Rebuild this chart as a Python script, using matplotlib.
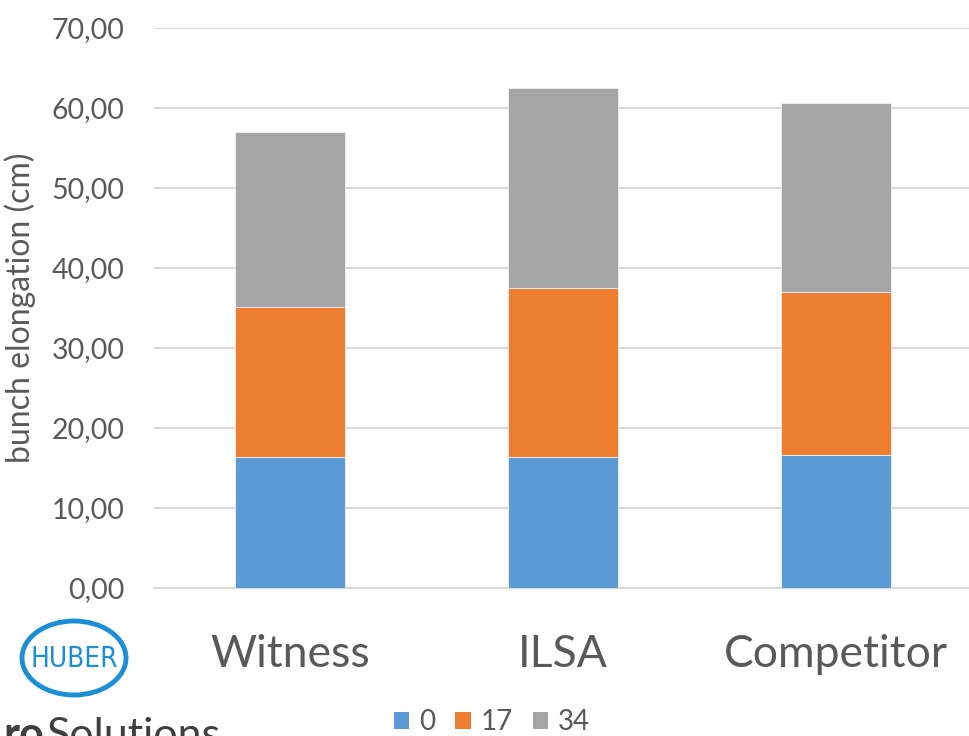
import matplotlib
matplotlib.use("Agg")
import matplotlib.pyplot as plt
from matplotlib.patches import Ellipse, Patch
import numpy as np

plt.rcParams['font.family'] = ['Lato', 'DejaVu Sans']

# bunch elongation per treatment, split by day
categories = ["Witness", "ILSA", "Competitor"]
series_names = ["0", "17", "34"]
day0 = [16.35, 16.33, 16.58]
day17 = [18.73, 21.13, 20.42]
day34 = [21.88, 25.00, 23.66]
yticks = [0, 10, 20, 30, 40, 50, 60, 70]

colors = ["#5B9BD5", "#ED7D31", "#A5A5A5"]
text_grey = "#595959"

fig = plt.figure(figsize=(9.69, 7.36), dpi=100)
ax = fig.add_axes([153.5 / 969, 148 / 736, 819 / 969, 560 / 736])

x = np.arange(len(categories))
width = 0.40
bottom = np.zeros(len(categories))
for vals, col, name in zip([day0, day17, day34], colors, series_names):
    ax.bar(x, vals, width, bottom=bottom, color=col, edgecolor="#f2f2f2",
           linewidth=0.6, label=name, zorder=3)
    bottom += np.array(vals)

ax.set_xlim(-0.5, 2.5)
ax.set_ylim(0, 70)
ax.set_yticks(yticks)
ax.set_yticklabels(["{:.2f}".format(v).replace(".", ",") for v in yticks])
ax.set_xticks(x)
ax.set_xticklabels(categories)
ax.tick_params(axis="y", length=0, pad=21, labelsize=20.5, labelcolor=text_grey)
ax.tick_params(axis="x", length=0, pad=33, labelsize=32, labelcolor=text_grey)

ax.grid(axis="y", color="#d9d9d9", linewidth=1.5, zorder=0)
for s in ax.spines.values():
    s.set_visible(False)
ax.spines["bottom"].set_visible(True)
ax.spines["bottom"].set_color("#d9d9d9")
ax.spines["bottom"].set_linewidth(1.5)

ax.set_ylabel("bunch elongation (cm)", fontsize=23, color=text_grey)
ax.yaxis.set_label_coords(-0.143, 0.5)

handles = [Patch(facecolor=c, label=n) for c, n in zip(colors, series_names)]
fig.legend(handles=handles, loc="center", bbox_to_anchor=(492 / 969, 1 - 722 / 736),
           ncol=3, frameon=False, fontsize=20, handlelength=0.55, handleheight=0.55,
           handletextpad=0.36, columnspacing=0.72, labelcolor=text_grey,
           borderpad=0.2)

# company logo bottom left
logo_blue = "#1B8ED6"
fig.patches.append(Ellipse((74 / 969, 1 - 658 / 736), 104 / 969, 74 / 736,
                           transform=fig.transFigure, fill=False,
                           edgecolor=logo_blue, linewidth=3.5))
fig.text(74 / 969, 1 - 659 / 736, "HUBER", ha="center", va="center",
         fontsize=20, color=logo_blue, fontstretch="condensed",
         family="Liberation Sans Narrow", transform=fig.transFigure)
fig.text(44 / 969, 1 - 748 / 736, "ro", ha="right", va="baseline",
         fontsize=31, color="#3f3f3f", fontweight="bold")
fig.text(47 / 969, 1 - 748 / 736, "Solutions", ha="left", va="baseline",
         fontsize=31, color="#3f3f3f")

fig.savefig("out.png", dpi=100)
